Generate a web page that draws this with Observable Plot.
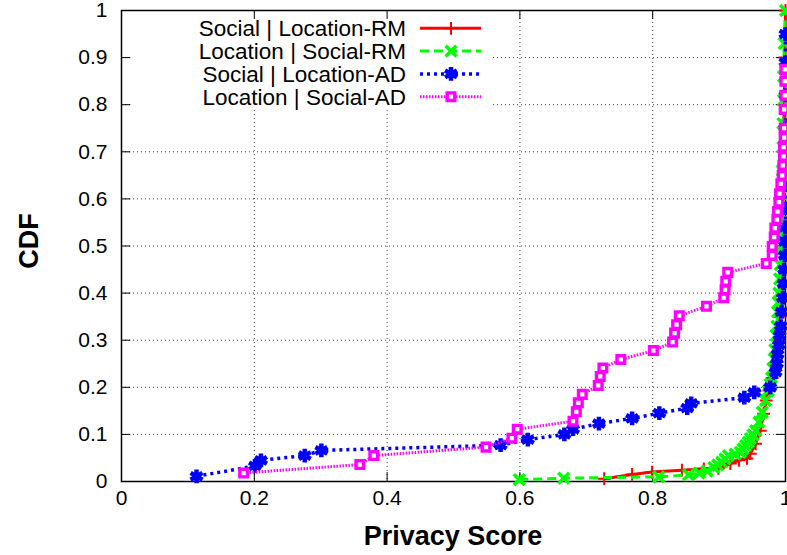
<!DOCTYPE html>
<html><head><meta charset="utf-8">
<script src="https://cdn.jsdelivr.net/npm/d3@7"></script>
<script src="https://cdn.jsdelivr.net/npm/@observablehq/plot@0.6"></script>
<style>body{margin:0;background:#fff;} svg{display:block;}</style>
</head><body><div id="chart"></div>
<script>
const seriesNames = ["Social | Location-RM", "Location | Social-RM", "Social | Location-AD", "Location | Social-AD"];
const seriesColors = ["#ff0000", "#00ff00", "#0000ff", "#ff00ff"];

const rmSocialX = [0.727, 0.769, 0.799, 0.844, 0.877, 0.899, 0.917, 0.930, 0.942, 0.947, 0.955, 0.962, 0.967, 0.971, 0.975, 0.980, 0.985, 0.990, 0.994, 0.997, 0.999, 1.0];
const rmSocialY = [0.006, 0.015, 0.020, 0.024, 0.027, 0.028, 0.038, 0.045, 0.049, 0.059, 0.080, 0.108, 0.144, 0.172, 0.193, 0.22, 0.27, 0.35, 0.50, 0.70, 0.90, 1.0];

const rmLocationX = [0.599, 0.666, 0.809, 0.854, 0.870, 0.882, 0.892, 0.898, 0.904, 0.909, 0.914, 0.924, 0.932, 0.936, 0.940, 0.944, 0.947, 0.951, 0.955, 0.960, 0.965, 0.970, 0.974, 0.977, 0.979, 0.981, 0.983, 0.984, 0.986, 0.987, 0.988, 0.989, 0.990, 0.991, 0.992, 0.993, 0.993, 0.994, 0.994, 0.995, 0.995, 0.996, 0.996, 0.997, 0.997, 0.998, 1.0];
const rmLocationY = [0.004, 0.007, 0.010, 0.014, 0.018, 0.022, 0.030, 0.035, 0.041, 0.048, 0.055, 0.058, 0.062, 0.069, 0.076, 0.083, 0.091, 0.099, 0.108, 0.126, 0.147, 0.172, 0.193, 0.207, 0.22, 0.24, 0.26, 0.28, 0.31, 0.33, 0.36, 0.38, 0.40, 0.43, 0.46, 0.49, 0.52, 0.55, 0.58, 0.61, 0.66, 0.71, 0.76, 0.81, 0.86, 0.93, 1.0];

const adSocialX = [0.113, 0.201, 0.210, 0.276, 0.301, 0.571, 0.612, 0.667, 0.680, 0.719, 0.769, 0.810, 0.852, 0.858, 0.938, 0.953, 0.977, 0.985, 0.987, 0.988, 0.990, 0.991, 0.993, 0.994, 0.996, 0.997, 0.998, 0.999, 0.999, 1.0, 1.0, 1.0, 1.0, 1.0, 1.0, 1.0, 1.0];
const adSocialY = [0.011, 0.033, 0.045, 0.055, 0.066, 0.077, 0.089, 0.100, 0.111, 0.123, 0.134, 0.145, 0.156, 0.166, 0.178, 0.189, 0.200, 0.232, 0.25, 0.27, 0.29, 0.31, 0.33, 0.36, 0.39, 0.42, 0.45, 0.48, 0.51, 0.54, 0.58, 0.63, 0.69, 0.75, 0.82, 0.89, 0.95];

const adLocationX = [0.184, 0.359, 0.380, 0.549, 0.588, 0.596, 0.680, 0.685, 0.688, 0.694, 0.718, 0.721, 0.725, 0.752, 0.801, 0.830, 0.833, 0.836, 0.840, 0.881, 0.907, 0.909, 0.910, 0.913, 0.971, 0.980, 0.980, 0.983, 0.984, 0.987, 0.988, 0.990, 0.991, 0.993, 0.995, 0.996, 0.997, 0.997, 0.998, 0.998, 0.998, 0.999, 0.999, 0.999];
const adLocationY = [0.018, 0.036, 0.055, 0.073, 0.092, 0.111, 0.128, 0.148, 0.167, 0.185, 0.204, 0.223, 0.241, 0.259, 0.278, 0.296, 0.315, 0.333, 0.352, 0.372, 0.390, 0.407, 0.425, 0.444, 0.463, 0.480, 0.499, 0.519, 0.538, 0.556, 0.573, 0.593, 0.611, 0.632, 0.650, 0.671, 0.69, 0.71, 0.73, 0.75, 0.79, 0.82, 0.85, 0.875];

const xTicks = [0, 0.2, 0.4, 0.6, 0.8, 1];
const xTickLabels = ["0", "0.2", "0.4", "0.6", "0.8", "1"];
const yTicks = [0, 0.1, 0.2, 0.3, 0.4, 0.5, 0.6, 0.7, 0.8, 0.9, 1];
const yTickLabels = ["0", "0.1", "0.2", "0.3", "0.4", "0.5", "0.6", "0.7", "0.8", "0.9", "1"];
const xTitle = "Privacy Score";
const yTitle = "CDF";

const seriesXs = [rmSocialX, rmLocationX, adSocialX, adLocationX];
const seriesYs = [rmSocialY, rmLocationY, adSocialY, adLocationY];

const styles = [
  {dash: null, width: 3, symbol: "plus", r: 4.2, sw: 2, fill: "none"},
  {dash: "9,5", width: 3, symbol: "times", r: 5, sw: 3.5, fill: "none"},
  {dash: "3,4", width: 3.5, symbol: "asterisk", r: 6.5, sw: 4.5, fill: "none"},
  {dash: "1.5,1.5", width: 3, symbol: "square", r: 4.3, sw: 3.4, fill: "white"}
];

const rows = seriesXs.map((xs, s) => xs.map((x, i) => ({series: seriesNames[s], x, y: seriesYs[s][i]})));

const font = "'Liberation Sans', Arial, Helvetica, sans-serif";

const marks = [
  Plot.gridX(xTicks.slice(1, -1), {stroke: "#000", strokeOpacity: 0.75, strokeDasharray: "1,3", strokeWidth: 1}),
  Plot.gridY(yTicks.slice(1, -1), {stroke: "#000", strokeOpacity: 0.75, strokeDasharray: "1,3", strokeWidth: 1}),
  Plot.axisX(xTicks, {tickSize: 0, tickPadding: 9, fontSize: 21, tickFormat: d => xTickLabels[xTicks.indexOf(d)], label: null}),
  Plot.axisY(yTicks, {tickSize: 0, tickPadding: 14, fontSize: 21, tickFormat: d => yTickLabels[yTicks.indexOf(d)], label: null}),
  Plot.ruleY(yTicks, {x1: 0, x2: 0.014, stroke: "#000", strokeWidth: 1}),
  Plot.ruleY(yTicks, {x1: 0.986, x2: 1, stroke: "#000", strokeWidth: 1}),
  Plot.ruleX(xTicks, {y1: 0, y2: 0.019, stroke: "#000", strokeWidth: 1}),
  Plot.ruleX(xTicks, {y1: 0.981, y2: 1, stroke: "#000", strokeWidth: 1}),
  Plot.frame({stroke: "#000", strokeWidth: 1.5})
];
rows.forEach((r, s) => {
  const st = styles[s];
  marks.push(Plot.line(r, {x: "x", y: "y", stroke: seriesColors[s], strokeWidth: st.width, strokeDasharray: st.dash, strokeLinecap: "butt"}));
  marks.push(Plot.dot(r, {x: "x", y: "y", symbol: st.symbol, r: st.r, stroke: seriesColors[s], strokeWidth: st.sw, fill: st.fill}));
});

const chart = Plot.plot({
  width: 787, height: 555,
  marginLeft: 121, marginRight: 2, marginTop: 10, marginBottom: 74,
  x: {domain: [0, 1]},
  y: {domain: [0, 1]},
  style: {fontFamily: font, fontSize: "21px", color: "#000", background: "#fff", overflow: "hidden"},
  marks
});

const svg = d3.select(chart);
svg.append("text").attr("x", 453).attr("y", 545).attr("text-anchor", "middle")
  .attr("font-family", font).attr("font-weight", "bold").attr("font-size", 27).attr("fill", "#000").text(xTitle);
svg.append("text").attr("transform", "translate(38,241) rotate(-90)").attr("text-anchor", "middle")
  .attr("font-family", font).attr("font-weight", "bold").attr("font-size", 27).attr("fill", "#000").text(yTitle);

// legend (opaque box), inserted under tick marks
const legendG = document.createElementNS("http://www.w3.org/2000/svg", "g");
const firstRule = chart.querySelector('[aria-label="rule"]');
chart.insertBefore(legendG, firstRule);
const lg = d3.select(legendG);
lg.append("rect").attr("x", 133).attr("y", 11).attr("width", 360).attr("height", 97).attr("fill", "#fff");
const symMap = {plus: d3.symbolPlus, times: d3.symbolTimes, asterisk: d3.symbolAsterisk, square: d3.symbolSquare};
seriesNames.forEach((name, i) => {
  const cy = 28.3 + i * 22.8;
  const st = styles[i];
  lg.append("text").attr("x", 406).attr("y", cy).attr("dy", "0.36em").attr("text-anchor", "end")
    .attr("font-family", font).attr("font-size", 22.5).attr("fill", "#000").text(name);
  lg.append("line").attr("x1", 420).attr("x2", 481).attr("y1", cy).attr("y2", cy)
    .attr("stroke", seriesColors[i]).attr("stroke-width", st.width).attr("stroke-dasharray", st.dash);
  lg.append("path").attr("transform", `translate(451,${cy})`)
    .attr("d", d3.symbol(symMap[st.symbol], Math.PI * st.r * st.r)())
    .attr("stroke", seriesColors[i]).attr("stroke-width", st.sw).attr("fill", st.fill);
});

document.getElementById("chart").appendChild(chart);
</script>
</body></html>
